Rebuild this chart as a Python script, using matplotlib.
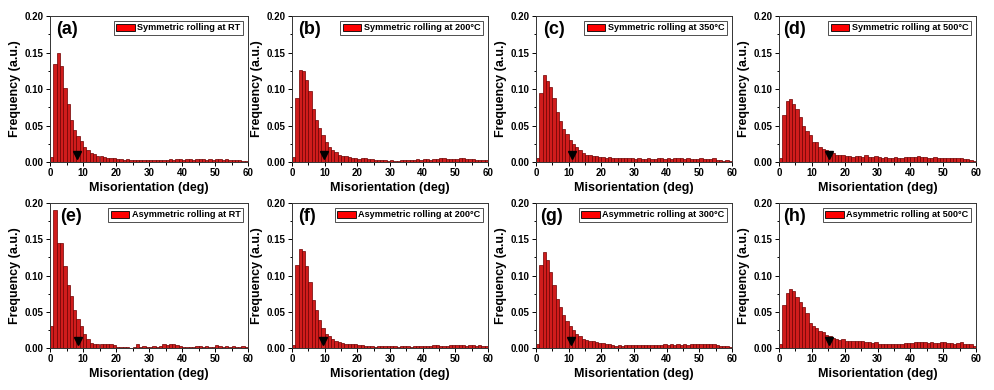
import numpy as np
import matplotlib
matplotlib.use("Agg")
import matplotlib.pyplot as plt

plt.rcParams['font.family'] = ['Liberation Sans', 'DejaVu Sans']
plt.rcParams['font.weight'] = 'bold'

# bin left edges: 1 deg bins from 0 to 60
bin_left = np.arange(0, 60)

sym_rt = [0.007, 0.134, 0.149, 0.131, 0.102, 0.079, 0.058, 0.044, 0.035, 0.029,
          0.020, 0.016, 0.013, 0.011, 0.008, 0.008, 0.007, 0.006, 0.005, 0.005,
          0.004, 0.004, 0.003, 0.004, 0.003, 0.003, 0.003, 0.003, 0.003, 0.003,
          0.003, 0.003, 0.003, 0.003, 0.003, 0.003, 0.004, 0.003, 0.004, 0.004,
          0.003, 0.004, 0.004, 0.003, 0.004, 0.004, 0.004, 0.003, 0.004, 0.003,
          0.004, 0.004, 0.003, 0.004, 0.003, 0.003, 0.003, 0.003, 0.002, 0.002]

sym_200 = [0.007, 0.087, 0.126, 0.124, 0.113, 0.097, 0.072, 0.057, 0.046, 0.037,
           0.027, 0.020, 0.016, 0.014, 0.010, 0.008, 0.008, 0.007, 0.006, 0.005,
           0.004, 0.005, 0.005, 0.004, 0.004, 0.003, 0.003, 0.003, 0.003, 0.002,
           0.003, 0.002, 0.002, 0.003, 0.003, 0.003, 0.003, 0.003, 0.004, 0.003,
           0.004, 0.004, 0.003, 0.004, 0.004, 0.005, 0.005, 0.004, 0.004, 0.004,
           0.004, 0.005, 0.005, 0.004, 0.004, 0.004, 0.003, 0.003, 0.003, 0.003]

sym_350 = [0.006, 0.094, 0.119, 0.111, 0.103, 0.088, 0.068, 0.056, 0.045, 0.038,
           0.030, 0.025, 0.020, 0.016, 0.013, 0.010, 0.010, 0.008, 0.008, 0.007,
           0.007, 0.006, 0.007, 0.006, 0.006, 0.005, 0.006, 0.005, 0.005, 0.005,
           0.004, 0.005, 0.004, 0.004, 0.005, 0.004, 0.004, 0.005, 0.005, 0.004,
           0.005, 0.004, 0.005, 0.005, 0.005, 0.004, 0.005, 0.004, 0.004, 0.004,
           0.005, 0.004, 0.004, 0.004, 0.005, 0.003, 0.003, 0.002, 0.003, 0.002]

sym_500 = [0.005, 0.064, 0.084, 0.086, 0.079, 0.072, 0.062, 0.050, 0.042, 0.037,
           0.027, 0.027, 0.021, 0.018, 0.016, 0.014, 0.012, 0.010, 0.009, 0.009,
           0.008, 0.008, 0.007, 0.008, 0.008, 0.007, 0.009, 0.007, 0.007, 0.008,
           0.007, 0.006, 0.007, 0.006, 0.006, 0.007, 0.006, 0.006, 0.007, 0.007,
           0.007, 0.007, 0.008, 0.007, 0.007, 0.006, 0.006, 0.007, 0.006, 0.006,
           0.006, 0.006, 0.005, 0.005, 0.006, 0.005, 0.004, 0.004, 0.003, 0.002]

asym_rt = [0.031, 0.190, 0.145, 0.145, 0.113, 0.087, 0.072, 0.053, 0.040, 0.030,
           0.020, 0.012, 0.007, 0.006, 0.006, 0.005, 0.006, 0.005, 0.006, 0.004,
           0.001, 0.002, 0.002, 0.001, 0.000, 0.001, 0.006, 0.002, 0.003, 0.002,
           0.002, 0.003, 0.002, 0.003, 0.006, 0.004, 0.005, 0.005, 0.004, 0.003,
           0.002, 0.002, 0.001, 0.002, 0.003, 0.003, 0.002, 0.003, 0.002, 0.002,
           0.004, 0.003, 0.002, 0.003, 0.002, 0.003, 0.002, 0.002, 0.003, 0.002]

asym_200 = [0.004, 0.115, 0.137, 0.134, 0.113, 0.091, 0.066, 0.052, 0.039, 0.027,
            0.020, 0.016, 0.012, 0.010, 0.008, 0.007, 0.006, 0.006, 0.005, 0.005,
            0.004, 0.004, 0.003, 0.003, 0.003, 0.002, 0.003, 0.003, 0.003, 0.003,
            0.003, 0.003, 0.002, 0.003, 0.003, 0.003, 0.002, 0.003, 0.003, 0.003,
            0.003, 0.003, 0.003, 0.004, 0.004, 0.003, 0.003, 0.003, 0.004, 0.004,
            0.004, 0.004, 0.004, 0.003, 0.004, 0.004, 0.003, 0.004, 0.003, 0.003]

asym_300 = [0.005, 0.115, 0.133, 0.122, 0.105, 0.087, 0.068, 0.057, 0.045, 0.037,
            0.031, 0.025, 0.019, 0.016, 0.013, 0.011, 0.010, 0.009, 0.008, 0.007,
            0.007, 0.006, 0.005, 0.004, 0.003, 0.004, 0.003, 0.004, 0.004, 0.004,
            0.004, 0.004, 0.004, 0.004, 0.004, 0.004, 0.004, 0.004, 0.004, 0.005,
            0.004, 0.005, 0.004, 0.005, 0.004, 0.005, 0.004, 0.005, 0.005, 0.005,
            0.005, 0.005, 0.005, 0.005, 0.005, 0.004, 0.003, 0.003, 0.003, 0.002]

asym_500 = [0.005, 0.060, 0.076, 0.082, 0.078, 0.071, 0.063, 0.056, 0.048, 0.034,
            0.031, 0.028, 0.024, 0.022, 0.018, 0.016, 0.014, 0.012, 0.011, 0.012,
            0.010, 0.009, 0.009, 0.009, 0.009, 0.009, 0.008, 0.008, 0.007, 0.008,
            0.006, 0.006, 0.006, 0.006, 0.006, 0.006, 0.006, 0.006, 0.007, 0.007,
            0.007, 0.008, 0.008, 0.008, 0.008, 0.007, 0.008, 0.007, 0.007, 0.008,
            0.008, 0.007, 0.007, 0.006, 0.007, 0.008, 0.006, 0.006, 0.005, 0.003]

series = [sym_rt, sym_200, sym_350, sym_500, asym_rt, asym_200, asym_300, asym_500]
panel_labels = ['(a)', '(b)', '(c)', '(d)', '(e)', '(f)', '(g)', '(h)']
legend_labels = ['Symmetric rolling at RT', 'Symmetric rolling at 200°C',
                 'Symmetric rolling at 350°C', 'Symmetric rolling at 500°C',
                 'Asymmetric rolling at RT', 'Asymmetric rolling at 200°C',
                 'Asymmetric rolling at 300°C', 'Asymmetric rolling at 500°C']
# mean misorientation (arrow markers)
mean_angle = [8.3, 9.8, 10.9, 15.3, 8.4, 9.6, 10.6, 15.3]
mean_y = [0.010, 0.010, 0.010, 0.010, 0.009, 0.010, 0.010, 0.010]

# axes boxes in pixels: left, right for columns; top, bottom for rows
col_px = [(50, 248), (292, 488), (536, 732), (779, 976)]
row_px = [(16, 162), (203, 348)]
label_x = [0.03, 0.03, 0.035, 0.02, 0.05, 0.03, 0.02, 0.02]
W, H = 994, 390

fig = plt.figure(figsize=(W / 100, H / 100), dpi=100)

for i in range(8):
    r, c = divmod(i, 4)
    x0, x1 = col_px[c]
    y0, y1 = row_px[r]
    ax = fig.add_axes([x0 / W, 1 - y1 / H, (x1 - x0) / W, (y1 - y0) / H])

    ax.bar(bin_left, series[i], width=1.0, align='edge', color='#d01c1c',
           edgecolor='#6e0000', linewidth=0.5, label=legend_labels[i])
    ax.plot(mean_angle[i], mean_y[i], marker='v', color='black', markersize=6)

    ax.set_xlim(0, 60)
    ax.set_ylim(0, 0.20)
    ax.set_xticks(range(0, 61, 10))
    ax.set_xticks(range(5, 60, 10), minor=True)
    ax.set_yticks([0.0, 0.05, 0.10, 0.15, 0.20])
    ax.set_yticks([0.025, 0.075, 0.125, 0.175], minor=True)
    ax.set_yticklabels(['0.00', '0.05', '0.10', '0.15', '0.20'])
    ax.tick_params(which='both', direction='out', labelsize=7, width=0.7, pad=1.5)
    ax.tick_params(which='major', length=3)
    ax.tick_params(which='minor', length=1.8)
    for sp in ax.spines.values():
        sp.set_linewidth(0.7)
        sp.set_color('#333333')

    ax.set_xlabel('Misorientation (deg)', fontsize=9, fontweight='bold', labelpad=3)
    ax.set_ylabel('Frequency (a.u.)', fontsize=9, fontweight='bold', labelpad=3)

    ax.text(label_x[i], 0.965, panel_labels[i], transform=ax.transAxes, fontsize=13,
            fontweight='bold', va='top', ha='left')

    leg = ax.legend(loc='upper right', fontsize=6.6, frameon=True, fancybox=False,
                    borderpad=0.3, handlelength=2.0, handleheight=0.8,
                    handletextpad=0.3, borderaxespad=0.5)
    leg.get_frame().set_edgecolor('black')
    leg.get_frame().set_linewidth(0.6)
    for h in leg.legend_handles:
        h.set_facecolor('#ff0000')
        h.set_edgecolor('black')
        h.set_linewidth(0.6)

plt.savefig('out.png', dpi=100)
